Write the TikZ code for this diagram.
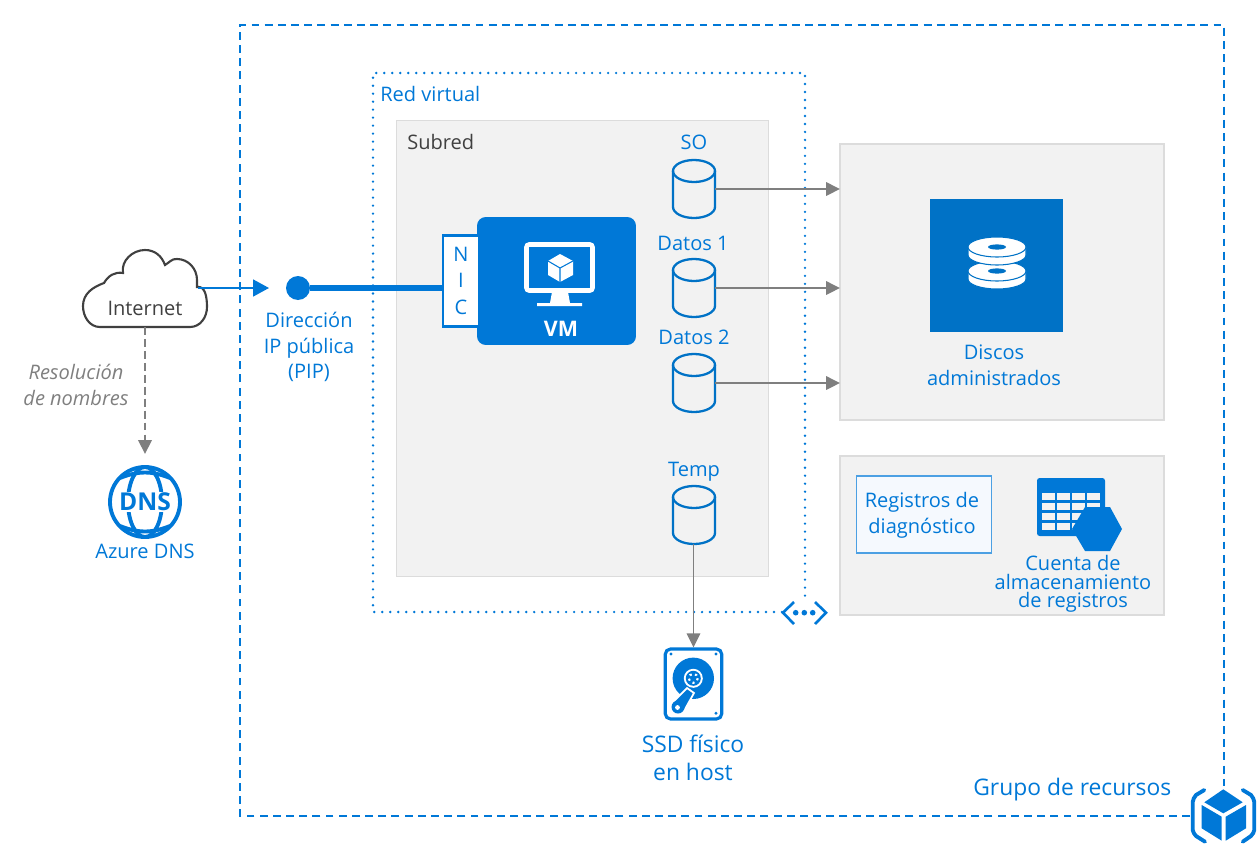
\documentclass[tikz,border=0pt]{standalone}
\usepackage{fontspec}
\setmainfont{Open Sans}
\usetikzlibrary{arrows.meta}
\definecolor{azure}{HTML}{0078D7}
\definecolor{azuredark}{HTML}{0072C6}
\definecolor{panelgray}{HTML}{F2F2F2}
\definecolor{panelline}{HTML}{DCDCDC}
\definecolor{arrowgray}{HTML}{7F7F7F}
\definecolor{textdark}{HTML}{404040}
\definecolor{boxfill}{HTML}{F5F9FE}
\tikzset{
    panel/.style={draw=panelline,fill=panelgray,line width=1pt,inner sep=0pt,outer sep=0pt},
    diskbody/.style={minimum width=.84cm,minimum height=1.16cm,inner sep=0pt,outer sep=0pt},
    diskline/.style={draw=azuredark,line width=1.3pt},
    bluetext/.style={text=azure,align=center,font=\fontsize{11.4}{14.6}\selectfont,inner sep=0pt},
    darktext/.style={text=textdark,align=center,font=\fontsize{11.4}{14.6}\selectfont,inner sep=0pt},
    biglabel/.style={text=azure,align=center,font=\fontsize{13}{16}\selectfont,inner sep=0pt},
    grayarrow/.style={draw=arrowgray,line width=1pt,-{Triangle[length=.28cm,width=.27cm]}},
    bluearrow/.style={draw=azure,line width=1pt,-{Triangle[length=.32cm,width=.34cm]}}
}
\begin{document}
\begin{tikzpicture}[x=.02cm,y=-.02cm]
\useasboundingbox (0,0) rectangle (1258,845);
%resource group
\draw[azure,line width=1.2pt,dash pattern=on 4.5pt off 3pt] (1190,816)--(240,816)--(240,25)--(1224,25)--(1224,786);
\node[biglabel,anchor=west] (grouplabel) at (973,790) {Grupo de recursos};
%group icon
\fill[azure] (1223.3,789.3)--(1242.7,802.3)--(1223.3,813.3)--(1204.3,802.3)--cycle;
\fill[azure] (1201.7,805)--(1221.7,816.7)--(1221.7,840.7)--(1201.7,828.3)--cycle;
\fill[azure] (1225.7,816.7)--(1246,805)--(1246,828.3)--(1225.7,840.7)--cycle;
\draw[azure,line width=2.2pt,line cap=round] (1204.3,790)--(1196,795) to[out=-120,in=90] (1192.7,802)--(1192.7,830) to[out=-90,in=120] (1196,836)--(1205,841.7);
\draw[azure,line width=2.2pt,line cap=round] (1242.7,790)--(1251,795) to[out=-60,in=90] (1254.3,802)--(1254.3,830) to[out=-90,in=60] (1251,836)--(1242.7,841.7);
%virtual network
\draw[azure,line width=1.5pt,line cap=round,dash pattern=on 0pt off 4.55pt] (782,612)--(373,612)--(373,73)--(805,73)--(805,597);
\node[bluetext,anchor=west] (vnetlabel) at (380,94) {Red virtual};
\draw[azure,line width=1.5pt] (794,602)--(783,612.7)--(794,624);
\draw[azure,line width=1.5pt] (815,602)--(826,612.7)--(815,624);
\foreach \x in {795.7,804.3,812.7}
    \fill[azure] (\x,612.7) circle (2.8);
%subnet
\node[panel,minimum width=7.44cm,minimum height=9.12cm] (subnet) at (582.5,348.5) {};
\node[darktext,anchor=west] (subnetlabel) at (407,142) {Subred};
%panels on the right
\node[panel,minimum width=6.48cm,minimum height=5.52cm] (diskpanel) at (1002,282) {};
\node[panel,minimum width=6.48cm,minimum height=3.18cm] (logpanel) at (1002,535.5) {};
%disks
\foreach \diskname/\y in {osdisk/189,datadiska/288,datadiskb/383,tempdisk/515}{
    \node[diskbody] (\diskname) at (694,\y) {};
    \draw[diskline] (673,\y-18)--(673,\y+18) arc (180:0:21 and 11)--(715,\y-18);
    \draw[diskline] (694,\y-18) ellipse (21 and 11);
}
\node[bluetext] (oslabel) at (694,142) {SO};
\node[bluetext] (dataalabel) at (693,243) {Datos 1};
\node[bluetext] (datablabel) at (694,337) {Datos 2};
\node[bluetext] (templabel) at (694,472) {Temp};
%VM
\node[fill=azure,rounded corners=5pt,minimum width=3.18cm,minimum height=2.56cm,inner sep=0pt] (vm) at (556.5,281) {};
\node[draw=azure,fill=white,line width=1.2pt,minimum width=.72cm,minimum height=1.82cm,inner sep=0pt] (nic) at (461,281) {};
\node[bluetext] (nicn) at (461,254) {N};
\node[bluetext] (nici) at (461,280) {I};
\node[bluetext] (nicc) at (461,307) {C};
\node[text=white,font=\bfseries\fontsize{12.2}{14}\selectfont,inner sep=0pt] (vmlabel) at (561,329) {VM};
%monitor icon
\draw[white,line width=2.6pt,rounded corners=1.5pt] (526.5,244.5) rectangle (592.5,290.5);
\fill[white] (552,292)--(568,292)--(570,303)--(582,303)--(582,306)--(537,306)--(537,303)--(550,303)--cycle;
\fill[white] (560,254)--(573,261)--(573,275)--(560,282)--(548,275)--(548,261)--cycle;
\draw[azure,line width=.6pt] (548,261)--(560,268)--(573,261) (560,268)--(560,282);
%internet cloud
\draw[textdark,line width=1.2pt,fill=white] (100,327) to[out=180,in=-90] (83,306)
    to[out=90,in=200] (104,283) to[out=60,in=170] (123,273) to[out=100,in=180] (145,250)
    to[out=0,in=110] (165,265) to[out=30,in=175] (177,259) to[out=0,in=90] (197,280) -- (197,287)
    to[out=10,in=90] (207,307) to[out=-90,in=0] (190,327) -- cycle;
\node[darktext] (internet) at (145,308) {Internet};
\coordinate (cloudeast) at (198,288);
\coordinate (cloudsouth) at (145,327);
%public ip
\node[circle,fill=azure,minimum size=.48cm,inner sep=0pt,outer sep=0pt] (pip) at (298,288) {};
\coordinate (piparrow) at (269,288);
\node[bluetext] (piplabel) at (309,347) {Dirección\\IP pública\\(PIP)};
\draw[bluearrow] (cloudeast)--(piparrow);
\draw[azure,line width=3pt] (pip)--(pip -| nic.west);
%dns
\coordinate (dnstop) at (145,454);
\draw[grayarrow,line width=1.2pt,dash pattern=on 4.5pt off 2.3pt] (cloudsouth)--(dnstop);
\node[text=arrowgray,align=center,font=\itshape\fontsize{11.4}{14.6}\selectfont,inner sep=0pt] (resolvelabel) at (76,385) {Resolución\\de nombres};
\draw[azure,line width=2.2pt] (145,502) circle (35);
\draw[azure,line width=2.2pt] (145,502) ellipse (17 and 35);
\draw[azure,line width=2.2pt] (120,478) to[bend left=22] (170,478) (120,526) to[bend right=22] (170,526);
\node[fill=white,text=azure,font=\bfseries\fontsize{14}{16}\selectfont,inner sep=.5pt] (dnsicon) at (145,502) {DNS};
\node[bluetext] (dnslabel) at (145,551) {Azure DNS};
%disk connectors
\draw[grayarrow] (osdisk.east)--(osdisk.east -| diskpanel.west);
\draw[grayarrow] (datadiska.east)--(datadiska.east -| diskpanel.west);
\draw[grayarrow] (datadiskb.east)--(datadiskb.east -| diskpanel.west);
%managed disks
\node[fill=azuredark,minimum size=2.66cm,inner sep=0pt] (diskicon) at (996.5,265.5) {};
\foreach \y in {271,247}{
    \fill[white,draw=azuredark,line width=.6pt] (968,\y)--(968,\y+8) arc (180:0:29 and 10)--(1026,\y)--cycle;
    \fill[white,draw=azuredark,line width=.6pt] (997,\y) ellipse (29 and 10);
    \fill[azuredark] (997,\y) ellipse (9 and 2.6);
}
\node[bluetext] (disklabel) at (994,365) {Discos\\administrados};
%logs
\node[draw=azure!70,fill=boxfill,line width=.7pt,minimum width=2.7cm,minimum height=1.54cm,inner sep=0pt] (diagbox) at (924.3,514.5) {};
\node[bluetext] (diaglabel) at (922,515) {Registros de\\diagnóstico};
\fill[azure,rounded corners=1.5pt] (1037,478) rectangle (1105,536);
\foreach \x in {1042.3,1057.3,1072.3,1087.3}
    \foreach \y in {493.3,502.7,513.3,523.3}
        \fill[panelgray] (\x,\y) rectangle +(12.7,7);
\fill[azure] (1072,529)--(1085,507)--(1110,507)--(1122,529)--(1110,551)--(1085,551)--cycle;
\node[bluetext,font=\fontsize{11.4}{10.5}\selectfont] (loglabel) at (1073,584) {Cuenta de\\almacenamiento\\de registros};
%ssd
\node[draw=azure,fill=white,line width=1.8pt,rounded corners=3pt,minimum width=1.13cm,minimum height=1.4cm,inner sep=0pt] (ssd) at (693.5,684) {};
\foreach \x/\y in {671/654,716/654,716/713.3}
    \fill[azure] (\x,\y) circle (1.6);
\fill[azure] (693.3,678.3) circle (20.7);
\fill[white] (693.3,678.3) circle (9.5);
\fill[azure] (693.3,678.3) circle (7.5);
\draw[white,line width=1.2pt,dotted] (693.3,678.3) circle (4.5);
\fill[azure,draw=white,line width=1pt] (687,688)--(694,693)--(684,711)--(672,703)--cycle;
\fill[azure] (678,707) circle (6.5);
\fill[white] (677.5,707.5) circle (2.4);
\node[biglabel] (ssdlabel) at (693,758) {SSD físico\\en host};
\draw[grayarrow] (tempdisk.south -| ssd.north)--(ssd.north);
\end{tikzpicture}
\end{document}
